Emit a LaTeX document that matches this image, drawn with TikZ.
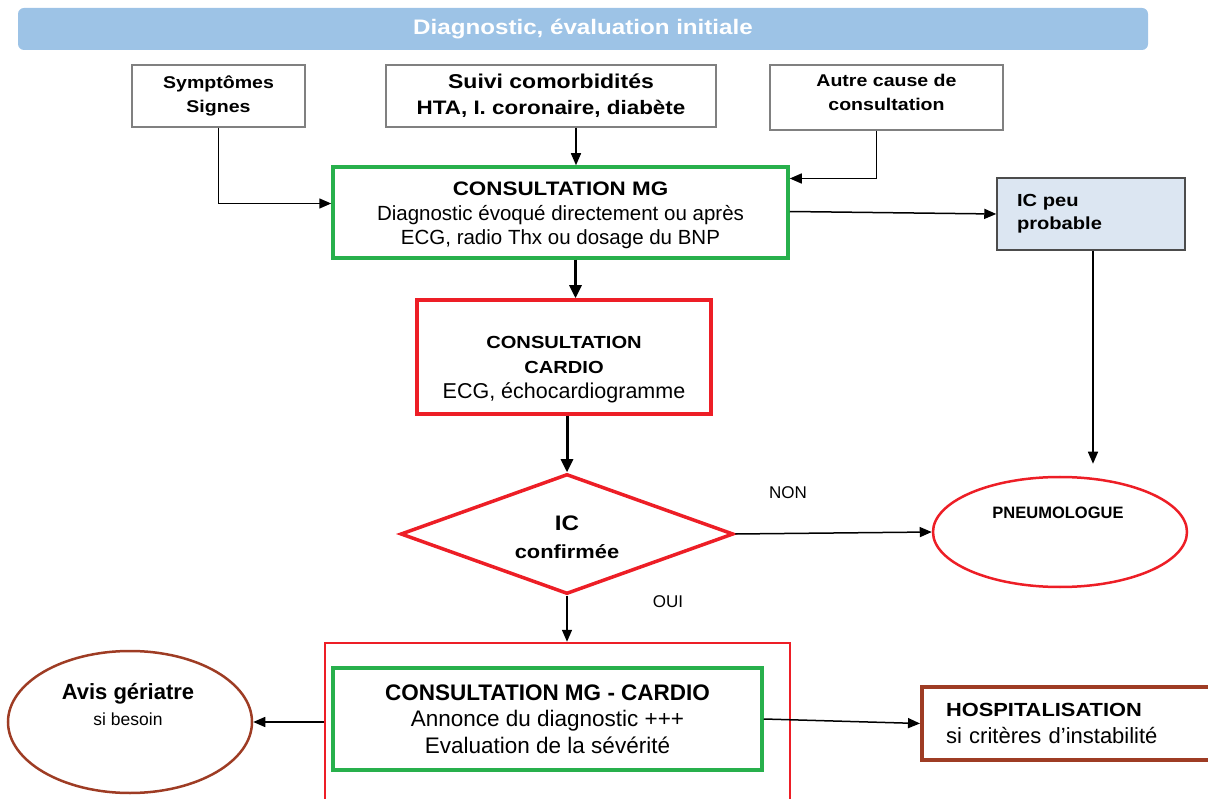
\documentclass[tikz,border=0pt]{standalone}
\usepackage{fontspec}
\setmainfont{Liberation Sans}
\newfontfamily\sanslarge[FakeStretch=1.15]{Liberation Sans}
\usetikzlibrary{shapes.geometric,arrows.meta}

\definecolor{bleutitre}{RGB}{157,195,230}
\definecolor{vertmg}{RGB}{40,176,76}
\definecolor{rougec}{RGB}{237,30,38}
\definecolor{brun}{RGB}{158,60,36}
\definecolor{bleugris}{RGB}{220,230,242}

\tikzset{
  boite/.style={draw=black!50, line width=1.2pt, inner sep=0pt, align=center},
  vertbox/.style={draw=vertmg, line width=3.5pt, inner sep=0pt, align=center},
  rougebox/.style={draw=rougec, line width=3.5pt, inner sep=0pt, align=center},
  losange/.style={diamond, aspect=2.77, draw=rougec, line width=3.5pt, inner sep=0pt, align=center},
  ovale/.style={ellipse, line width=2.5pt, inner sep=0pt},
  fleche/.style={line width=1.5pt, -{Triangle[length=12pt,width=10pt]}},
  grossefleche/.style={line width=3pt, -{Triangle[length=13pt,width=12pt]}},
}

\begin{document}
\begin{tikzpicture}[x=1pt, y=-1pt]

    \useasboundingbox (0,0) rectangle (1208,799);
    \clip (0,0) rectangle (1208,799);

    % bandeau du titre
    \node[fill=bleutitre, rounded corners=6pt, minimum width=1130pt, minimum height=42pt,
          text=white, font=\sanslarge\bfseries\fontsize{21}{24}\selectfont] (titre) at (583,29)
          {Diagnostic, évaluation initiale};

    % portes d'entree
    \node[boite, minimum width=173pt, minimum height=62pt,
          font=\sanslarge\bfseries\fontsize{17}{24}\selectfont] (symp) at (218.5,96)
          {Symptômes\\Signes};
    \node[boite, minimum width=330pt, minimum height=62pt,
          font=\sanslarge\bfseries\fontsize{19.5}{26}\selectfont] (suivi) at (551,96)
          {{\fontsize{20}{26}\selectfont Suivi comorbidités}\\HTA, I. coronaire, diabète};
    \node[boite, minimum width=233pt, minimum height=65pt,
          font=\sanslarge\bfseries\fontsize{17}{24}\selectfont] (autre) at (886.5,97.5)
          {Autre cause de\\consultation\rule[-10pt]{0pt}{10pt}};

    % consultation medecin generaliste
    \node[vertbox, minimum width=455pt, minimum height=91pt,
          font=\fontsize{20.5}{24.5}\selectfont] (mg) at (560.5,212.5)
          {{\sanslarge\bfseries\fontsize{19.5}{24.5}\selectfont\rule{0pt}{20pt}CONSULTATION MG}\\
           Diagnostic évoqué directement ou après\\ECG, radio Thx ou dosage du BNP};

    % IC peu probable
    \node[draw=black!70, fill=bleugris, line width=1.5pt, minimum width=188pt, minimum height=72pt,
          inner xsep=20pt, text width=148pt, align=left,
          font=\sanslarge\bfseries\fontsize{17.5}{23}\selectfont] (ipp) at (1091,214)
          {IC peu\\probable};

    % consultation cardiologue
    \node[rougebox, minimum width=294pt, minimum height=114pt,
          font=\fontsize{21.5}{25}\selectfont] (cardio) at (564,357)
          {{\sanslarge\bfseries\fontsize{17.5}{23}\selectfont\rule{0pt}{37pt}CONSULTATION}\\
           {\sanslarge\bfseries\fontsize{17.5}{23}\selectfont CARDIO}\\
           ECG, échocardiogramme};

    % decision
    \node[losange, minimum width=333pt, minimum height=120pt,
          font=\sanslarge\bfseries\fontsize{19}{28}\selectfont] (dia) at (567,534)
          {{\fontsize{21}{28}\selectfont\rule{0pt}{22pt}IC}\\confirmée};

    % pneumologue
    \node[ovale, draw=rougec, minimum width=254pt, minimum height=110pt] (pneumo) at (1060,532) {};
    \node[font=\bfseries\fontsize{16.5}{20}\selectfont] (pneutxt) at (1058,513) {PNEUMOLOGUE};

    \node[font=\fontsize{17}{20}\selectfont] (non) at (788,493) {NON};
    \node[font=\fontsize{17}{20}\selectfont] (oui) at (668,602) {OUI};

    % consultation commune
    \node[draw=rougec, line width=2.5pt, minimum width=465pt, minimum height=170pt] (cadre) at (557.5,728) {};
    \node[vertbox, minimum width=429pt, minimum height=102pt,
          font=\fontsize{22.5}{26.5}\selectfont] (mgcardio) at (547.5,719)
          {{\bfseries CONSULTATION MG - CARDIO}\\Annonce du diagnostic +++\\Evaluation de la sévérité};

    % avis geriatre
    \node[ovale, draw=brun, minimum width=244pt, minimum height=142pt] (avis) at (130,722) {};
    \node[font=\fontsize{17.5}{26}\selectfont, align=center] (avistxt) at (128,705)
          {{\bfseries\fontsize{22}{26}\selectfont Avis gériatre}\\si besoin};

    % hospitalisation
    \node[draw=brun, line width=4pt, minimum width=292pt, minimum height=73pt,
          inner xsep=24pt, text width=244pt, align=left,
          font=\fontsize{22}{27}\selectfont] (hosp) at (1068,723.5)
          {{\sanslarge\bfseries\fontsize{19}{27}\selectfont HOSPITALISATION}\\si critères d’instabilité};

    % fleches
    \draw[fleche] (symp.south) |- ([yshift=9pt]mg.west);
    \draw[fleche] ([xshift=25pt]suivi.south) -- ([xshift=25pt]suivi.south |- mg.north);
    \draw[fleche] ([xshift=-10pt]autre.south) |- ([yshift=34pt]mg.east);
    \draw[fleche] ([yshift=1pt]mg.east) -- (ipp.west);
    \draw[fleche, shorten >=12pt] ([xshift=2pt]ipp.south) -- ([xshift=2pt]ipp.south |- pneumo.north);
    \draw[grossefleche] ([xshift=15pt]mg.south) -- ([xshift=15pt]mg.south |- cardio.north);
    \draw[grossefleche] (cardio.south -| dia.north) -- (dia.north);
    \draw[fleche] (dia.east) -- (pneumo.west);
    \draw[fleche] (dia.south) -- (dia.south |- cadre.north);
    \draw[fleche] ([yshift=6pt]cadre.west) -- (avis.east);
    \draw[fleche] (mgcardio.east) -- (hosp.west);

\end{tikzpicture}
\end{document}
